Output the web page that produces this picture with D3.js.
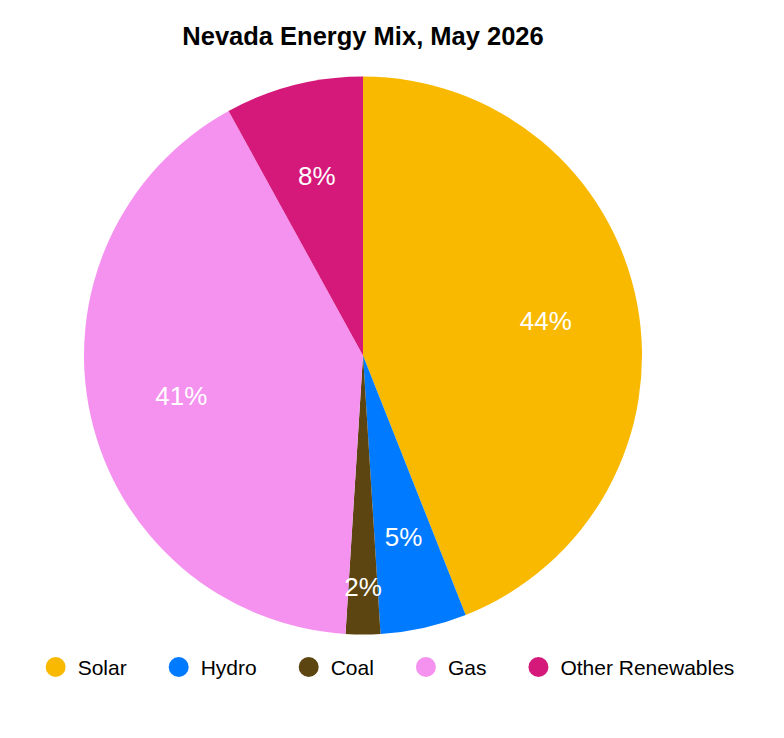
<!DOCTYPE html>
<html>
<head>
<meta charset="utf-8">
<script src="https://cdn.jsdelivr.net/npm/d3@7"></script>
<style>
  html, body { margin: 0; padding: 0; background: #fff; }
  svg { display: block; font-family: "Liberation Sans", Arial, Helvetica, sans-serif; }
</style>
</head>
<body>
<div id="chart"></div>
<script>
/* Nevada Energy Mix - pie with legend */

const categories = ['Solar', 'Hydro', 'Coal', 'Gas', 'Other Renewables'];
const shares = [44, 5, 2, 41, 8];
const colors = ['#f9b900', '#007aff', '#5c4511', '#f592f0', '#d4197a'];

const width = 784;
const height = 738;
const cx = 363;
const cy = 355.5;
const radius = 279;

const data = categories.map((c, i) => ({ name: c, value: shares[i], color: colors[i] }));

const svg = d3.select('#chart')
  .append('svg')
  .attr('width', width)
  .attr('height', height);

// Title
svg.append('text')
  .attr('x', cx)
  .attr('y', 45)
  .attr('text-anchor', 'middle')
  .attr('font-size', '25.5px')
  .attr('font-weight', 'bold')
  .attr('fill', '#000')
  .text('Nevada Energy Mix, May 2026');

const pie = d3.pie()
  .value(d => d.value)
  .sort(null);

const arc = d3.arc()
  .innerRadius(0)
  .outerRadius(radius);

const labelArc = d3.arc()
  .innerRadius(radius * 0.667)
  .outerRadius(radius * 0.667);

// small slices get their label pushed outward
const smallLabelArc = d3.arc()
  .innerRadius(radius * 0.83)
  .outerRadius(radius * 0.83);

const g = svg.append('g')
  .attr('transform', `translate(${cx},${cy})`);

const arcs = pie(data);

g.selectAll('.slice')
  .data(arcs)
  .enter()
  .append('path')
  .attr('class', 'slice')
  .attr('d', arc)
  .attr('fill', d => d.data.color);

g.selectAll('.slice-label')
  .data(arcs)
  .enter()
  .append('text')
  .attr('class', 'slice-label')
  .attr('transform', d => {
    const p = (d.data.value < 3 ? smallLabelArc : labelArc).centroid(d);
    return `translate(${p[0]},${p[1]})`;
  })
  .attr('text-anchor', 'middle')
  .attr('dy', '0.36em')
  .attr('font-size', '26px')
  .attr('fill', '#fff')
  .text(d => d.data.value + '%');

// Legend
const legend = svg.append('g');
const items = legend.selectAll('.legend-item')
  .data(data)
  .enter()
  .append('g')
  .attr('class', 'legend-item');

items.append('circle')
  .attr('r', 10)
  .attr('cx', 10)
  .attr('cy', 0)
  .attr('fill', d => d.color);

items.append('text')
  .attr('x', 32)
  .attr('dy', '0.36em')
  .attr('font-size', '21px')
  .attr('fill', '#000')
  .text(d => d.name);

let offset = 0;
items.each(function() {
  const w = d3.select(this).select('text').node().getComputedTextLength();
  d3.select(this).attr('transform', `translate(${offset},0)`);
  offset += 32 + w + 42;
});
const legendWidth = offset - 42;
legend.attr('transform', `translate(${390 - legendWidth / 2},667)`);
</script>
</body>
</html>
